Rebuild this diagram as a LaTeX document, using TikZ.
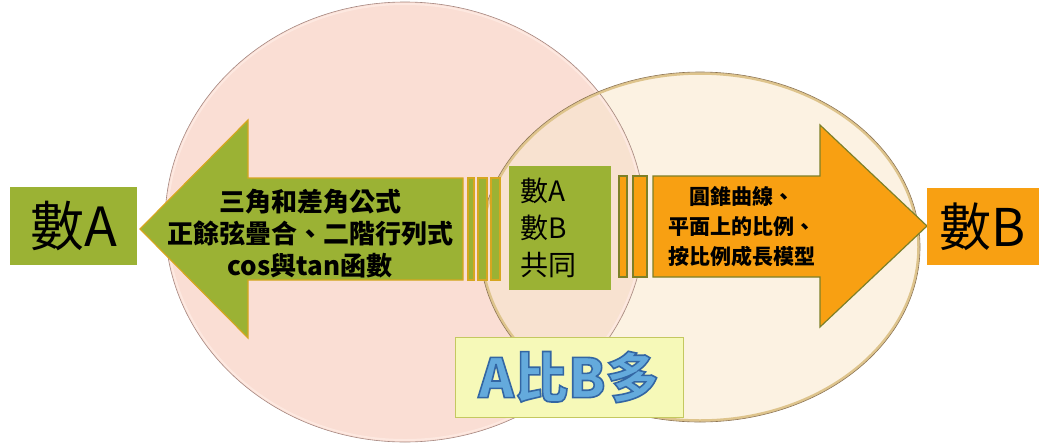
\documentclass[tikz,border=0pt]{standalone}
\usepackage{fontspec}
\usepackage{tikz}
\newfontfamily\cjk{Noto Sans CJK TC}
\definecolor{peach}{RGB}{250, 222, 212}
\definecolor{peachrim}{RGB}{253, 232, 224}
\definecolor{peachline}{RGB}{165, 135, 128}
\definecolor{cream}{RGB}{252, 242, 226}
\definecolor{creamline}{RGB}{222, 196, 140}
\definecolor{creamdark}{RGB}{140, 115, 80}
\definecolor{overlap}{RGB}{248, 226, 208}
\definecolor{olive}{RGB}{155, 178, 52}
\definecolor{goldrim}{RGB}{214, 166, 32}
\definecolor{tangerine}{RGB}{248, 160, 18}
\definecolor{mossrim}{RGB}{125, 128, 40}
\definecolor{lemon}{RGB}{246, 249, 184}
\definecolor{lemonline}{RGB}{196, 200, 96}
\definecolor{skyblue}{RGB}{100, 170, 220}
\newcommand{\outlined}[1]{\special{pdf:literal direct 2 Tr 1.6 w 0.20 0.40 0.64 RG}#1\special{pdf:literal direct 0 Tr}}

\begin{document}
\begin{tikzpicture}[x=1pt, y=-1pt,
        greenpart/.style  = {color=goldrim, fill=olive,     line width=1.2pt},
        orangepart/.style = {color=mossrim, fill=tangerine, line width=1.2pt},
        armtext/.style    = {text=black, align=center, inner sep=0pt}]
            \useasboundingbox (0,0) rectangle (1039,445);

            \fill[peach]                                (405,222) ellipse (240 and 220);
            \fill[cream]                                (700,247) ellipse (220 and 175);
            \begin{scope}
                \clip                                   (405,222) ellipse (240 and 220);
                \fill[overlap]                          (700,247) ellipse (220 and 175);
            \end{scope}
            \draw[peachrim,  line width=2pt]            (405,222) ellipse (238 and 218);
            \draw[peachline, line width=0.6pt]          (405,222) ellipse (240 and 220);
            \draw[creamline, line width=2.5pt]          (700,247) ellipse (218.5 and 173.5);
            \draw[creamdark, line width=0.6pt]          (700,247) ellipse (220 and 175);

            \filldraw[greenpart]  (140,229) -- (248,120) -- (248,178) -- (463,178) -- (463,280) -- (248,280) -- (248,338) -- cycle;
            \foreach \a/\b in {468/474, 478/487, 491/500}
                \filldraw[greenpart]  (\a,178) rectangle (\b,280);

            \filldraw[orangepart] (927,226) -- (820,125) -- (820,176) -- (653,176) -- (653,277) -- (820,277) -- (820,327) -- cycle;
            \foreach \a/\b in {619/627, 633/647}
                \filldraw[orangepart] (\a,176) rectangle (\b,277);

            \node[fill=olive, minimum width=102pt, minimum height=124pt, inner sep=0pt] (commonbox) at (560,228) {};
            \node[armtext, align=left, font={\cjk\fontsize{28}{37}\selectfont}] (common) at (548,228) {數A\\數B\\共同};

            \node[fill=olive,     minimum width=127pt, minimum height=78pt, inner sep=0pt,
                  font={\cjk\fontsize{54}{60}\selectfont}] (numA) at (73.5,226) {數A};
            \node[fill=tangerine, minimum width=112pt, minimum height=77pt, inner sep=0pt,
                  font={\cjk\fontsize{52}{60}\selectfont}] (numB) at (983,226.5) {數B};

            \node[armtext, font={\cjk\bfseries\fontsize{26}{32}\selectfont}] (trig) at (310,234)
                {三角和差角公式\\正餘弦疊合、二階行列式\\cos與tan函數};
            \node[armtext, font={\cjk\bfseries\fontsize{21}{30}\selectfont}] (ratio) at (742,227)
                {圓錐曲線、\\平面上的比例、\\按比例成長模型};

            \node[draw=lemonline, fill=lemon, line width=1pt, minimum width=228pt, minimum height=80pt,
                  text=skyblue, font={\cjk\bfseries\fontsize{54}{60}\selectfont}] (more) at (569,377) {\outlined{A比B多}};
        \end{tikzpicture}
\end{document}
